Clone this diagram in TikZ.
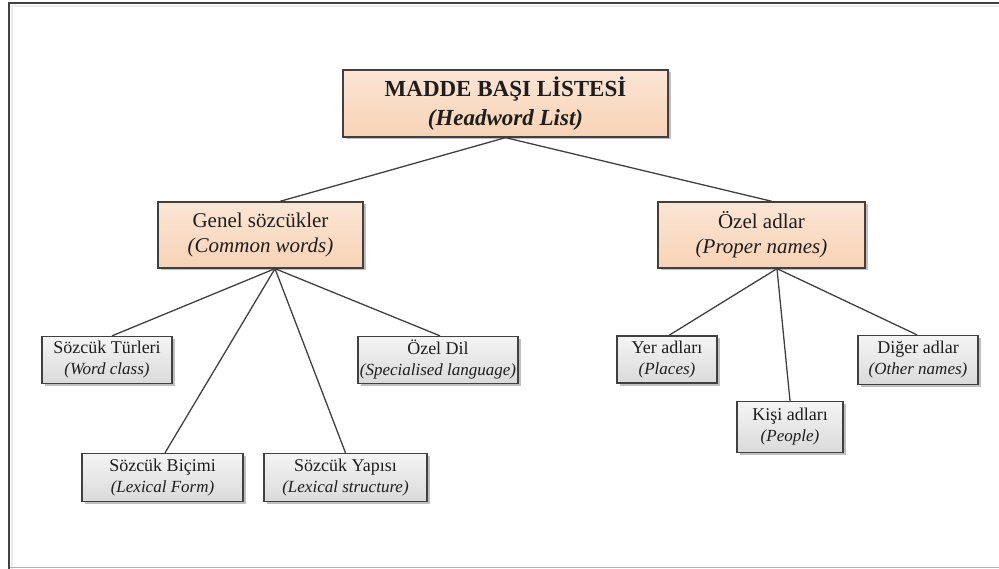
\documentclass[tikz,border=0pt]{standalone}
\usepackage{fontspec}
\setmainfont{Liberation Serif}
\usetikzlibrary{calc,shadows}
\definecolor{edge}{RGB}{64,64,64}
\definecolor{ink}{RGB}{30,30,30}
\definecolor{peachtop}{RGB}{251,229,213}
\definecolor{peachbot}{RGB}{247,211,181}
\definecolor{greytop}{RGB}{244,244,244}
\definecolor{greybot}{RGB}{218,218,218}
\newcommand{\gloss}[1]{{\fontsize{17}{21}\selectfont\itshape #1}}
\tikzset{
  box/.style={draw=edge, line width=1.3pt, text=ink, align=center, inner sep=0pt,
    drop shadow={shadow xshift=2.5pt, shadow yshift=-2.5pt, fill=black, opacity=0.25}},
  mainbox/.style={box, top color=peachtop, bottom color=peachbot},
  leafbox/.style={box, top color=greytop, bottom color=greybot,
    font=\fontsize{18}{21}\selectfont},
  link/.style={draw=edge, line width=1.3pt},
}
\begin{document}
\begin{tikzpicture}[x=1pt, y=-1pt]
\useasboundingbox (0,0) rectangle (999,569);
% outer frame
\draw[gray!15, line width=2pt] (11.5,569) -- (11.5,6.5) -- (999,6.5);
\draw[gray!60, line width=1pt] (9,567.5) -- (999,567.5);
\draw[edge, line width=2pt] (9,569) -- (9,3.5) -- (999,3.5);

% root
\node[mainbox, minimum width=325pt, minimum height=67pt,
  font=\fontsize{23}{29}\selectfont] (root) at (505.5,103.5)
  {\textbf{MADDE BAŞI LİSTESİ}\\\textbf{\textit{(Headword List)}}};

% second level
\node[mainbox, minimum width=205pt, minimum height=66pt,
  font=\fontsize{21}{25}\selectfont] (gen) at (260.5,235)
  {Genel sözcükler\\\textit{(Common words)}};
\node[mainbox, minimum width=207pt, minimum height=66pt,
  font=\fontsize{21}{25}\selectfont] (ozel) at (761.5,235)
  {Özel adlar\\\textit{(Proper names)}};

% leaves under Genel sözcükler
\node[leafbox, minimum width=130pt, minimum height=47pt] (tur) at (107,360)
  {Sözcük Türleri\\\gloss{(Word class)}};
\node[leafbox, minimum width=160pt, minimum height=47pt] (dil) at (438,360)
  {Özel Dil\\\gloss{(Specialised language)}};
\node[leafbox, minimum width=161pt, minimum height=48pt] (bic) at (162.5,477.5)
  {Sözcük Biçimi\\\gloss{(Lexical Form)}};
\node[leafbox, minimum width=163pt, minimum height=48pt] (yap) at (345.5,477.5)
  {Sözcük Yapısı\\\gloss{(Lexical structure)}};

% leaves under Özel adlar
\node[leafbox, minimum width=100pt, minimum height=47pt] (yer) at (667,359.5)
  {Yer adları\\\gloss{(Places)}};
\node[leafbox, minimum width=120pt, minimum height=49pt] (dig) at (918,360)
  {Diğer adlar\\\gloss{(Other names)}};
\node[leafbox, minimum width=106pt, minimum height=51pt] (kis) at (790,427)
  {Kişi adları\\\gloss{(People)}};

% connectors
\draw[link] (root.south) -- ($(gen.north)+(19.5,0)$);
\draw[link] (root.south) -- ($(ozel.north)+(10.5,0)$);

\coordinate (genfoot) at ($(gen.south)+(14.5,0)$);
\draw[link] (genfoot) -- ($(tur.north)+(5,0)$);
\draw[link] (genfoot) -- ($(dil.north)+(2,0)$);
\draw[link] (genfoot) -- ($(bic.north)+(2.5,0)$);
\draw[link] (genfoot) -- (yap.north);

\coordinate (ozelfoot) at ($(ozel.south)+(15.5,0)$);
\draw[link] (ozelfoot) -- ($(yer.north)+(2,0)$);
\draw[link] (ozelfoot) -- (kis.north);
\draw[link] (ozelfoot) -- ($(dig.north)+(-1,0)$);
\end{tikzpicture}
\end{document}
